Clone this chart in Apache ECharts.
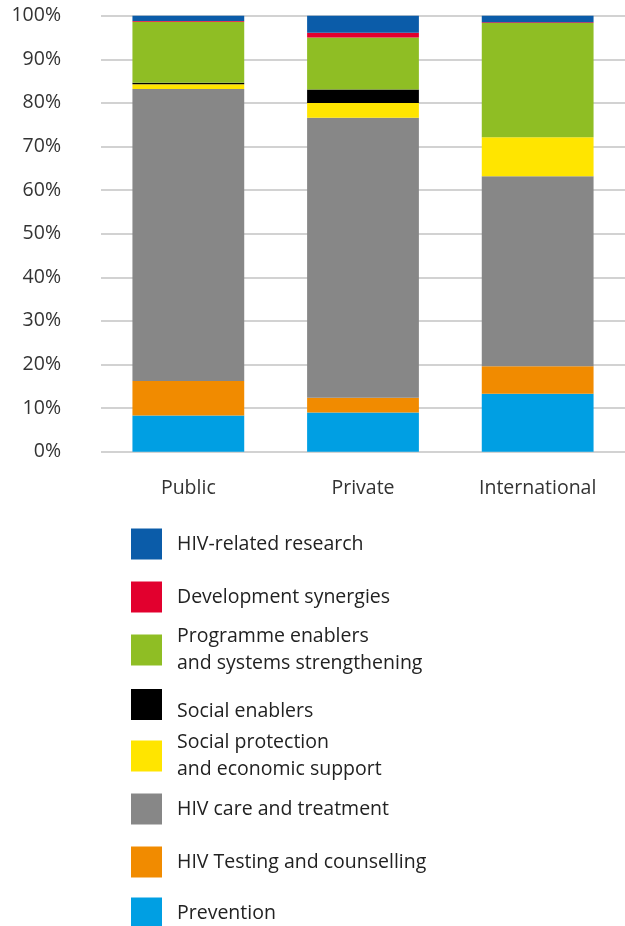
<!DOCTYPE html>
<html>
<head>
<meta charset="utf-8">
<script src="https://cdn.jsdelivr.net/npm/echarts@6/dist/echarts.min.js"></script>
<style>
  html, body { margin: 0; padding: 0; background: #fff; }
  #chart { width: 625px; height: 926px; }
</style>
</head>
<body>
<div id="chart"></div>
<script>
// Funding source categories
const categories = ['Public', 'Private', 'International'];

// Share of spending (%) per programme area, bottom of the stack first
const prevention        = [8.3, 9.0, 13.3];
const testing           = [7.9, 3.4, 6.3];
const careTreatment     = [67.0, 64.2, 43.6];
const socialProtection  = [1.1, 3.4, 8.9];
const socialEnablers    = [0.3, 3.1, 0];
const programmeEnablers = [14.0, 11.9, 26.2];
const devSynergies      = [0.2, 1.1, 0.2];
const research          = [1.2, 3.9, 1.5];

const yTicks = [0, 10, 20, 30, 40, 50, 60, 70, 80, 90, 100];

const seriesDefs = [
  { name: 'Prevention', data: prevention, color: '#009fe3' },
  { name: 'HIV Testing and counselling', data: testing, color: '#f18b00' },
  { name: 'HIV care and treatment', data: careTreatment, color: '#878787' },
  { name: 'Social protection\nand economic support', data: socialProtection, color: '#ffe500' },
  { name: 'Social enablers', data: socialEnablers, color: '#000000' },
  { name: 'Programme enablers\nand systems strengthening', data: programmeEnablers, color: '#8fbe24' },
  { name: 'Development synergies', data: devSynergies, color: '#e2002e' },
  { name: 'HIV-related research', data: research, color: '#0b5ca9' }
];

// Legend rows, top to bottom, with the vertical centre of each swatch;
// "low" rows sit their label a little below the swatch centre
const legendRows = [
  { name: 'HIV-related research', y: 544, low: false },
  { name: 'Development synergies', y: 597, low: false },
  { name: 'Programme enablers\nand systems strengthening', y: 650, low: false },
  { name: 'Social enablers', y: 703, low: true },
  { name: 'Social protection\nand economic support', y: 756, low: false },
  { name: 'HIV care and treatment', y: 809, low: false },
  { name: 'HIV Testing and counselling', y: 862, low: false },
  { name: 'Prevention', y: 913, low: false }
];

const FONT = '"Open Sans", sans-serif';

const chart = echarts.init(document.getElementById('chart'), null, { renderer: 'canvas' });

const legends = legendRows.map(r => {
  const lines = r.name.split('\n').length;
  const h = Math.max(31, lines * 27);
  const leg = {
    show: true,
    orient: 'vertical',
    left: 131,
    top: r.y - h / 2,
    padding: 0,
    itemWidth: 31,
    itemHeight: 31,
    itemGap: 0,
    icon: 'rect',
    selectedMode: false,
    data: [r.name],
    textStyle: {
      fontFamily: FONT,
      fontSize: 19.5,
      color: '#222',
      lineHeight: 27,
      padding: [0, 0, 0, 10]
    }
  };
  if (r.low) {
    // an empty first line of 14px drops the label ~7px below the swatch centre
    leg.formatter = name => '\n' + name;
    leg.textStyle.lineHeight = 14;
  }
  return leg;
});

const option = {
  animation: false,
  color: seriesDefs.map(s => s.color),
  grid: { left: 101, right: -3, top: 15.7, bottom: 474.3, containLabel: false },
  legend: legends,
  xAxis: {
    type: 'category',
    data: categories,
    axisLine: { show: false },
    axisTick: { show: false },
    axisLabel: { margin: 27, fontFamily: FONT, fontSize: 19.5, color: '#333' }
  },
  yAxis: {
    type: 'value',
    min: yTicks[0],
    max: yTicks[yTicks.length - 1],
    interval: 10,
    axisLine: { show: false },
    axisTick: { show: false },
    splitLine: { lineStyle: { color: '#d2d2d2', width: 2 } },
    axisLabel: {
      margin: 40,
      fontFamily: FONT,
      fontSize: 19.5,
      color: '#333',
      formatter: '{value}%'
    }
  },
  series: seriesDefs.map(s => ({
    name: s.name,
    type: 'bar',
    stack: 'total',
    barWidth: '64%',
    data: s.data,
    itemStyle: { color: s.color },
    emphasis: { disabled: true }
  }))
};

chart.setOption(option);
</script>
</body>
</html>
